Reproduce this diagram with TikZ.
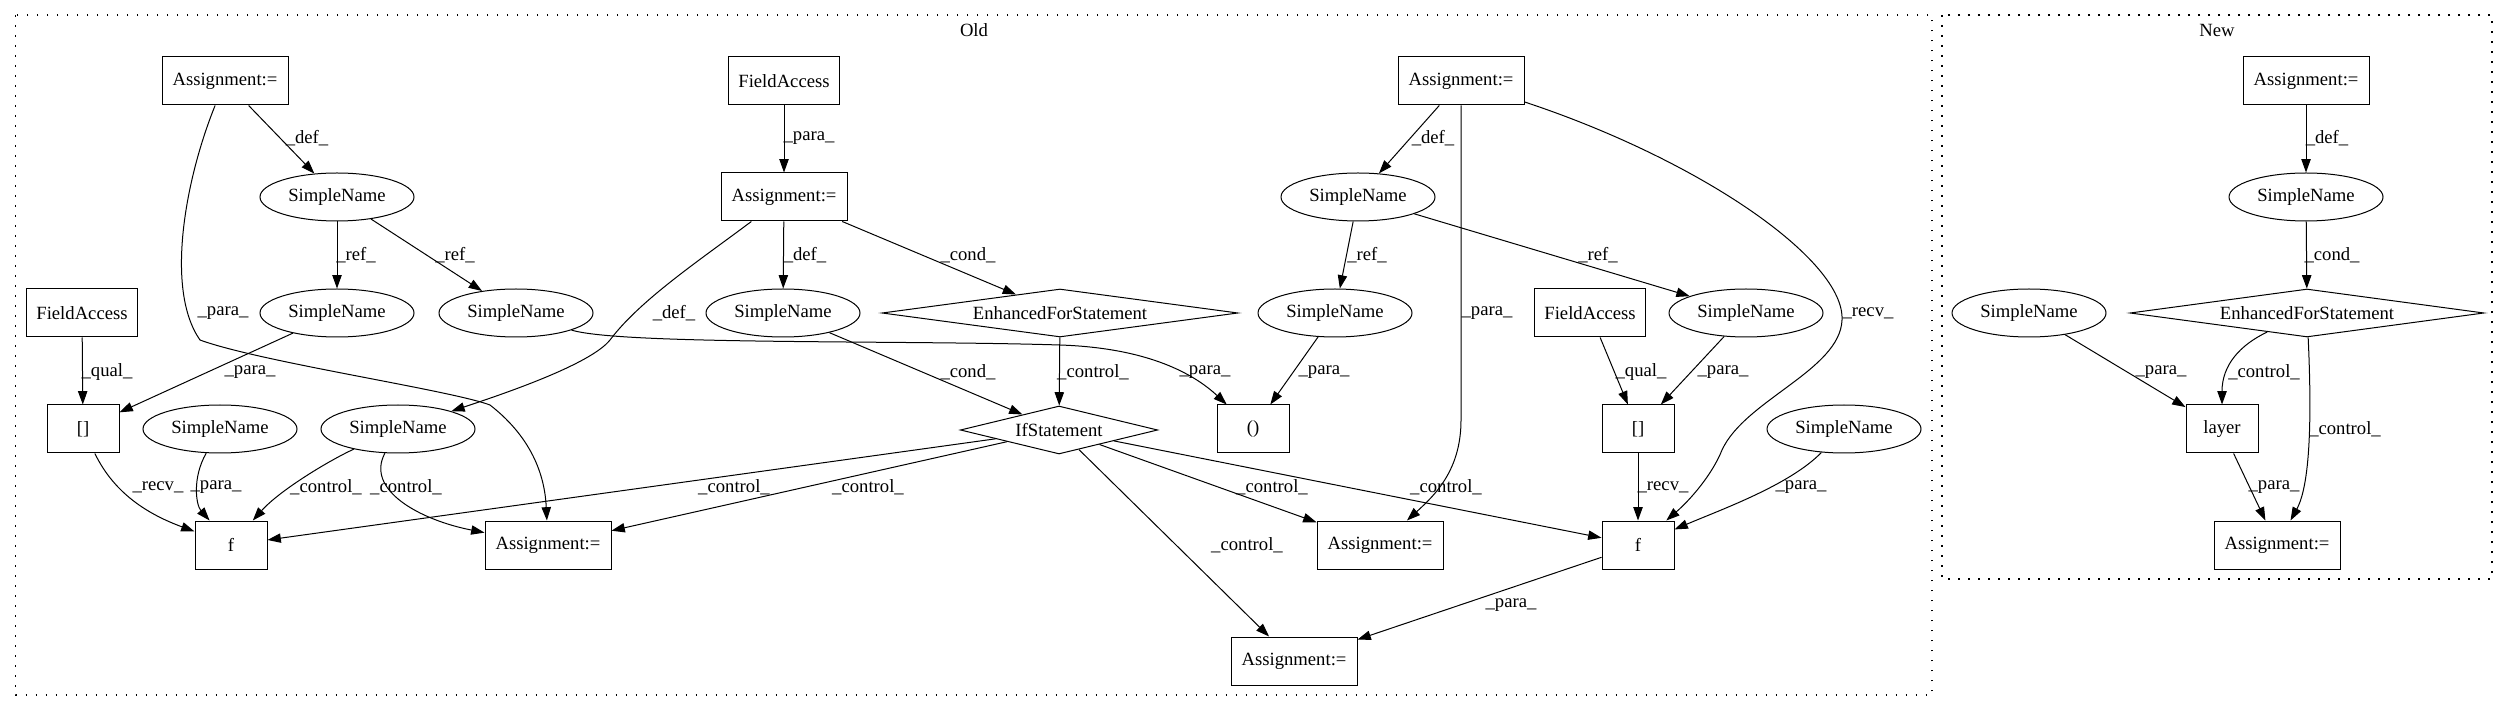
\documentclass[tikz,border=0pt]{standalone}
\usepackage{fontspec}
\setmainfont{Liberation Serif}
\usetikzlibrary{shapes.geometric,arrows.meta}

\begin{document}
\begin{tikzpicture}[x=0.75pt,y=-0.75pt,
    font=\fontsize{14}{16}\selectfont,
    line width=0.75pt,
    stmt/.style={rectangle,draw,minimum width=54pt,minimum height=36pt,inner sep=0pt},
    asg/.style={stmt,minimum width=94.5pt},
    fld/.style={stmt,minimum width=83pt},
    sname/.style={ellipse,draw,minimum width=115.5pt,minimum height=36pt,inner sep=0pt},
    cnd/.style={diamond,draw,aspect=6,minimum height=36pt,inner sep=0pt},
    lbl/.style={inner sep=0pt},
    cluster/.style={draw,line width=1pt,dash pattern=on 1.3pt off 6.2pt},
    >={Triangle[length=10pt,width=7pt]}]

\useasboundingbox (0,0) rectangle (2508,712);

% Clusters
\draw[cluster] (15.6,15) rectangle (1932,695);
\draw[cluster] (1942,15) rectangle (2492,579);
\node (old) at (974,30) {Old};
\node (new) at (2217,30) {New};

% Old: nodes
\node[asg] (a1) at (225,81) {Assignment:=};
\node[sname] (s1) at (337,197) {SimpleName};
\node[sname] (s2) at (337,313) {SimpleName};
\node[sname] (s3) at (516,313) {SimpleName};
\node[fld] (fa1) at (82,313) {FieldAccess};
\node[stmt] (lb1) at (83,429) {[]};
\node[sname] (s10) at (220,429) {SimpleName};
\node[sname] (s11) at (398,429) {SimpleName};
\node[stmt] (f1) at (231,545) {f};
\node[asg] (a6) at (548,545) {Assignment:=};
\node[fld] (fa2) at (784,81) {FieldAccess};
\node[asg] (a2) at (784,197) {Assignment:=};
\node[sname] (s4) at (783,313) {SimpleName};
\node[cnd,minimum width=267pt] (e1) at (1060,313) {EnhancedForStatement};
\node[cnd,minimum width=148pt] (ifst) at (1059,430) {IfStatement};
\node[stmt] (paren) at (1253,429) {()};
\node[asg] (a7) at (1294,661) {Assignment:=};
\node[asg] (a8) at (1380,545) {Assignment:=};
\node[asg] (a3) at (1461,81) {Assignment:=};
\node[sname] (s5) at (1358,197) {SimpleName};
\node[sname] (s6) at (1335,313) {SimpleName};
\node[fld] (fa3) at (1590,313) {FieldAccess};
\node[sname] (s7) at (1746,313) {SimpleName};
\node[stmt] (lb2) at (1638,429) {[]};
\node[stmt] (f2) at (1638,545) {f};
\node[sname] (s12) at (1844,429) {SimpleName};

% New: nodes
\node[asg] (a4) at (2306,81) {Assignment:=};
\node[sname] (s8) at (2306,197) {SimpleName};
\node[cnd,minimum width=265.5pt] (e2) at (2307,313) {EnhancedForStatement};
\node[sname] (s9) at (2029,313) {SimpleName};
\node[stmt] (lyr) at (2222,429) {layer};
\node[asg] (a5) at (2277,545) {Assignment:=};

% Old: edges
\draw[->] (a1) -- (s1) node[lbl] at (307,138) {\_def\_};
\draw[->] (s1) -- (s2) node[lbl] at (356,255) {\_ref\_};
\draw[->] (s1) -- (s3) node[lbl] at (455,255) {\_ref\_};
\draw[->] (a1) .. controls (185,180) and (165,290) .. (200,340)
    .. controls (260,362) and (450,390) .. (490,405)
    .. controls (535,440) and (545,480) .. (a6) node[lbl] at (223,313) {\_para\_};
\draw[->] (fa1) -- (lb1) node[lbl] at (107,372) {\_qual\_};
\draw[->] (s2) -- (lb1) node[lbl] at (250,372) {\_para\_};
\draw[->] (lb1) .. controls (115,495) and (150,515) .. (f1) node[lbl] at (158,487) {\_recv\_};
\draw[->] (s10) .. controls (192,478) and (196,505) .. (f1) node[lbl] at (216,487) {\_para\_};
\draw[->] (s11) .. controls (330,460) and (280,490) .. (f1) node[lbl] at (326,487) {\_control\_};
\draw[->] (s11) .. controls (365,490) and (420,520) .. (a6) node[lbl] at (406,487) {\_control\_};
\draw[->] (fa2) -- (a2) node[lbl] at (809,138) {\_para\_};
\draw[->] (a2) -- (s4) node[lbl] at (805,255) {\_def\_};
\draw[->] (a2) -- (e1) node[lbl] at (968,255) {\_cond\_};
\draw[->] (a2) .. controls (700,260) and (640,300) .. (610,340)
    .. controls (590,365) and (500,395) .. (s11) node[lbl] at (674,313) {\_def\_};
\draw[->] (s4) -- (ifst) node[lbl] at (968,372) {\_cond\_};
\draw[->] (e1) -- (ifst) node[lbl] at (1093,372) {\_control\_};
\draw[->] (s3) .. controls (620,345) and (900,340) .. (1060,345)
    .. controls (1150,348) and (1195,375) .. (paren) node[lbl] at (1205,372) {\_para\_};
\draw[->] (ifst) -- (f1) node[lbl] at (734,487) {\_control\_};
\draw[->] (ifst) -- (a6) node[lbl] at (868,487) {\_control\_};
\draw[->] (ifst) -- (a7) node[lbl] at (1247,545) {\_control\_};
\draw[->] (ifst) -- (a8) node[lbl] at (1272,487) {\_control\_};
\draw[->] (ifst) -- (f2) node[lbl] at (1446,487) {\_control\_};
\draw[->] (a3) -- (s5) node[lbl] at (1433,138) {\_def\_};
\draw[->] (s5) -- (s6) node[lbl] at (1367,255) {\_ref\_};
\draw[->] (s5) -- (s7) node[lbl] at (1598,255) {\_ref\_};
\draw[->] (a3) -- (1461,420) .. controls (1461,470) and (1435,495) .. (a8) node[lbl] at (1487,313) {\_para\_};
\draw[->] (a3) .. controls (1700,160) and (1845,260) .. (1842,320)
    .. controls (1840,370) and (1745,400) .. (1722,450)
    .. controls (1712,475) and (1690,500) .. (f2) node[lbl] at (1868,313) {\_recv\_};
\draw[->] (s6) -- (paren) node[lbl] at (1324,372) {\_para\_};
\draw[->] (fa3) -- (lb2) node[lbl] at (1641,372) {\_qual\_};
\draw[->] (s7) -- (lb2) node[lbl] at (1723,372) {\_para\_};
\draw[->] (lb2) -- (f2) node[lbl] at (1663,487) {\_recv\_};
\draw[->] (s12) .. controls (1790,485) and (1720,510) .. (f2) node[lbl] at (1801,487) {\_para\_};
\draw[->] (f2) -- (a7) node[lbl] at (1511,605) {\_para\_};

% New: edges
\draw[->] (a4) -- (s8) node[lbl] at (2327,138) {\_def\_};
\draw[->] (s8) -- (e2) node[lbl] at (2332,255) {\_cond\_};
\draw[->] (s9) -- (lyr) node[lbl] at (2161,372) {\_para\_};
\draw[->] (e2) .. controls (2240,345) and (2222,365) .. (lyr) node[lbl] at (2264,372) {\_control\_};
\draw[->] (e2) .. controls (2312,420) and (2310,485) .. (a5) node[lbl] at (2345,429) {\_control\_};
\draw[->] (lyr) -- (a5) node[lbl] at (2274,487) {\_para\_};

\end{tikzpicture}
\end{document}
